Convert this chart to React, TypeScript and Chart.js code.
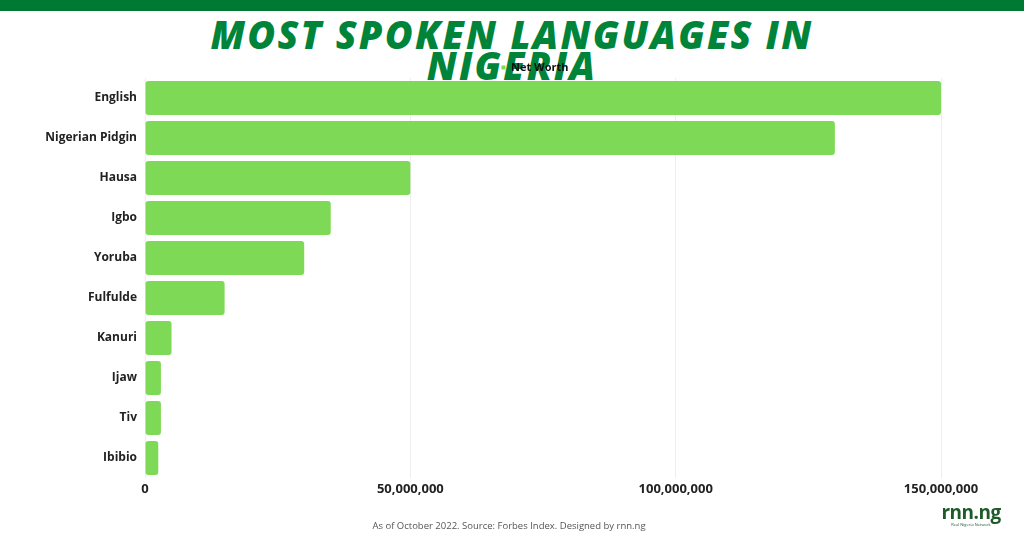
import React, { useEffect, useRef } from "react";
import { Chart, registerables } from "chart.js";

Chart.register(...registerables);

const categories = ["English", "Nigerian Pidgin", "Hausa", "Igbo", "Yoruba", "Fulfulde", "Kanuri", "Ijaw", "Tiv", "Ibibio"];
const speakers = [150000000, 130000000, 50000000, 35000000, 30000000, 15000000, 5000000, 3000000, 3000000, 2500000];
const seriesLabel = "Net Worth";
const titleLines = ["MOST SPOKEN LANGUAGES IN", "NIGERIA"];
const footerText = "As of October 2022. Source: Forbes Index. Designed by rnn.ng";

// centre the legend over the plot area rather than the whole canvas
const legendOverPlot = {
  id: "legendOverPlot",
  afterLayout(chart: any) {
    const lg = chart.legend;
    const ca = chart.chartArea;
    if (!lg || !ca) return;
    const shift = (ca.left + ca.right) / 2 - (lg.left + lg.right) / 2 - 8;
    const down = 5;
    lg.left += shift;
    lg.right += shift;
    lg.top += down;
    lg.bottom += down;
    if (lg.legendHitBoxes)
      lg.legendHitBoxes.forEach((b: any) => {
        b.left += shift;
        b.top += down;
      });
  },
};

export default function App() {
  const ref = useRef<HTMLCanvasElement | null>(null);

  useEffect(() => {
    document.body.style.margin = "0";
    const ctx = ref.current;
    if (!ctx) return;
    const chart = new Chart(ctx, {
      type: "bar",
      data: {
        labels: categories,
        datasets: [
          {
            label: seriesLabel,
            data: speakers,
            backgroundColor: "#7ed957",
            borderRadius: 3,
            borderSkipped: false,
            barPercentage: 1,
            categoryPercentage: 0.85,
          },
        ],
      },
      plugins: [legendOverPlot],
      options: {
        indexAxis: "y",
        animation: false,
        responsive: false,
        layout: { padding: { top: 53, right: 83, bottom: 30, left: 0 } },
        plugins: {
          legend: {
            display: true,
            labels: {
              boxWidth: 4,
              boxHeight: 4,
              padding: 4,
              color: "#111",
              font: { family: "Open Sans", size: 11, weight: "bold" },
            },
          },
          tooltip: { enabled: false },
        },
        scales: {
          x: {
            min: 0,
            max: 150000000,
            ticks: {
              stepSize: 50000000,
              color: "#222",
              font: { family: "Open Sans", size: 13, weight: "bold" },
              callback: (v: any) => Number(v).toLocaleString("en-US"),
              maxRotation: 0,
            },
            grid: { color: "#eeeeee", drawTicks: false },
            border: { display: false },
            afterFit: (s: any) => {
              s.height = 30;
            },
          },
          y: {
            ticks: {
              color: "#222",
              padding: 8,
              font: { family: "Open Sans", size: 12, weight: "bold" },
            },
            grid: { display: false, drawTicks: false },
            border: { display: false },
            afterFit: (s: any) => {
              s.width = 145;
            },
          },
        },
      },
    });
    return () => chart.destroy();
  }, []);

  return (
    <div style={{ position: "fixed", left: 0, top: 0, width: 1024, height: 538, background: "#fff", overflow: "hidden" }}>
      <div style={{ position: "absolute", left: 0, top: 0, width: 1024, height: 11, background: "#007a33" }} />
      <div
        style={{
          position: "absolute",
          left: 0,
          top: 19,
          width: 1024,
          textAlign: "center",
          fontFamily: "'Open Sans', sans-serif",
          fontWeight: 800,
          fontStyle: "italic",
          fontSize: 38,
          lineHeight: "31px",
          color: "#00843a",
          letterSpacing: "2.2px",
        }}
      >
        {titleLines.map((l, i) => (
          <div key={i}>{l}</div>
        ))}
      </div>
      <canvas ref={ref} width={1024} height={538} style={{ position: "absolute", left: 0, top: 0 }} />
      <div
        style={{
          position: "absolute",
          left: 0,
          top: 519,
          width: 1018,
          textAlign: "center",
          fontFamily: "'Open Sans', sans-serif",
          fontSize: 9.5,
          color: "#555",
        }}
      >
        {footerText}
      </div>
      <div
        style={{
          position: "absolute",
          left: 938,
          top: 502,
          width: 66,
          textAlign: "center",
          fontFamily: "'Open Sans', sans-serif",
          fontWeight: 700,
          fontSize: 19,
          lineHeight: "20px",
          color: "#1e5a2a",
          letterSpacing: "-0.5px",
        }}
      >
        rnn.ng
        <div style={{ fontSize: 4, lineHeight: "5px", fontWeight: 400, letterSpacing: 0 }}>Real Nigeria Network</div>
      </div>
    </div>
  );
}
